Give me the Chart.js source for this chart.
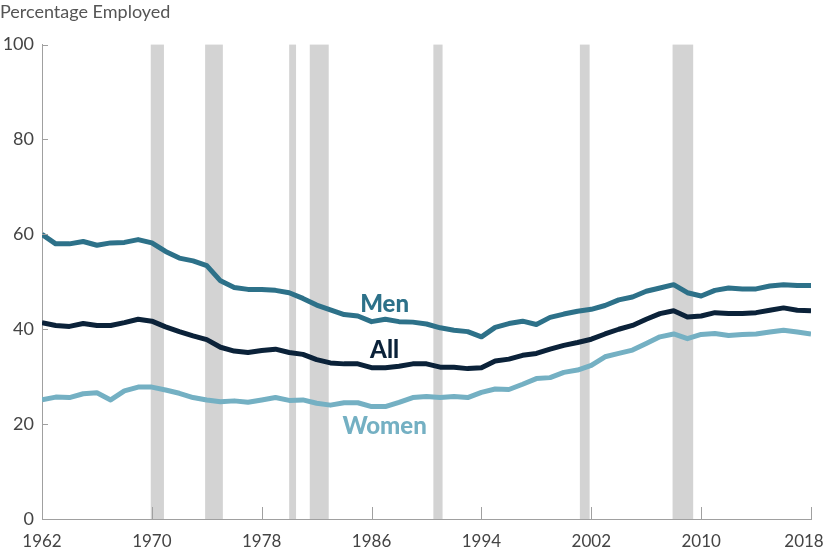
<!DOCTYPE html>
<html>
<head>
<meta charset="utf-8">
<script src="https://cdn.jsdelivr.net/npm/chart.js@4"></script>
<style>
  html, body { margin: 0; padding: 0; background: #fff; }
  #wrap { width: 825px; height: 550px; }
</style>
</head>
<body>
<div id="wrap"><canvas id="lineChart"></canvas></div>
<script>
"use strict";

// Data
const years = [];
for (let y = 1962; y <= 2018; y++) years.push(y);

const men = [60.0, 58.0, 58.0, 58.5, 57.7, 58.2, 58.3, 58.9, 58.2, 56.4,
  55.0, 54.4, 53.4, 50.2, 48.8, 48.4, 48.4, 48.2, 47.7, 46.5,
  45.1, 44.1, 43.1, 42.8, 41.6, 42.1, 41.6, 41.5, 41.1, 40.3,
  39.8, 39.5, 38.4, 40.4, 41.2, 41.7, 41.0, 42.5, 43.2, 43.8,
  44.2, 45.0, 46.2, 46.8, 48.0, 48.7, 49.4, 47.7, 47.0, 48.2,
  48.7, 48.5, 48.5, 49.1, 49.4, 49.2, 49.2];

const all = [41.4, 40.8, 40.6, 41.2, 40.8, 40.8, 41.4, 42.1, 41.7, 40.5,
  39.5, 38.6, 37.8, 36.2, 35.4, 35.1, 35.5, 35.8, 35.1, 34.7,
  33.6, 32.9, 32.7, 32.7, 31.9, 31.9, 32.2, 32.7, 32.7, 32.0,
  32.0, 31.7, 31.9, 33.3, 33.7, 34.5, 34.9, 35.8, 36.6, 37.2,
  37.9, 39.0, 40.0, 40.8, 42.1, 43.3, 43.9, 42.6, 42.8, 43.5,
  43.3, 43.3, 43.5, 44.0, 44.5, 44.0, 43.9];

const women = [25.1, 25.7, 25.6, 26.4, 26.6, 25.1, 27.0, 27.8, 27.8, 27.2,
  26.5, 25.6, 25.1, 24.7, 24.9, 24.6, 25.1, 25.6, 25.0, 25.1,
  24.4, 24.0, 24.5, 24.5, 23.7, 23.7, 24.6, 25.6, 25.8, 25.6,
  25.8, 25.6, 26.7, 27.4, 27.3, 28.4, 29.6, 29.8, 30.9, 31.4,
  32.4, 34.2, 34.9, 35.6, 37.0, 38.4, 39.0, 38.0, 38.9, 39.1,
  38.7, 38.9, 39.0, 39.4, 39.8, 39.4, 39.0];

// Lågkonjunkturer (start, slut) i årtal
const recessions = [
  [1969.92, 1970.88], [1973.88, 1975.17], [1980.0, 1980.5],
  [1981.5, 1982.88], [1990.5, 1991.17], [2001.17, 2001.88],
  [2007.92, 2009.42]
];

const xTicks = [1962, 1970, 1978, 1986, 1994, 2002, 2010, 2018];
const yTicks = [0, 20, 40, 60, 80, 100];

// Etiketter för linjerna: [text, x (år), y (värde), färg]
const seriesLabels = [
  ["Men", 1986.95, 45.3, "#2d7189"],
  ["All", 1986.95, 35.5, "#0b2239"],
  ["Women", 1986.95, 19.6, "#74b0c3"]
];

const toPoints = arr => arr.map((v, i) => ({ x: years[i], y: v }));

// Grå staplar för lågkonjunkturer + tickmarkeringar + etiketter
const recessionPlugin = {
  id: "recessions",
  beforeDraw(chart) {
    // flytta sista x-etiketten lite åt vänster så den får plats
    const items = chart.scales.x.getLabelItems();
    const last = items[items.length - 1];
    if (last && !last._moved) {
      last.options.translation[0] -= 7;
      last._moved = true;
    }
  },
  beforeDatasetsDraw(chart) {
    const { ctx, chartArea, scales } = chart;
    ctx.save();
    ctx.fillStyle = "#d3d3d3";
    recessions.forEach(r => {
      const x1 = scales.x.getPixelForValue(r[0]);
      const x2 = scales.x.getPixelForValue(r[1]);
      ctx.fillRect(x1, chartArea.top, x2 - x1, chartArea.bottom - chartArea.top);
    });
    ctx.restore();
  },
  afterDraw(chart) {
    const { ctx, chartArea, scales } = chart;
    ctx.save();
    // små tickmarkeringar inåt
    ctx.strokeStyle = "#a0a0a0";
    ctx.lineWidth = 1;
    xTicks.forEach(t => {
      const x = Math.round(scales.x.getPixelForValue(t)) + 0.5;
      ctx.beginPath();
      ctx.moveTo(x, chartArea.bottom);
      ctx.lineTo(x, chartArea.bottom - 12);
      ctx.stroke();
    });
    yTicks.forEach(t => {
      const y = Math.round(scales.y.getPixelForValue(t)) + 0.5;
      ctx.beginPath();
      ctx.moveTo(chartArea.left, y);
      ctx.lineTo(chartArea.left + 6, y);
      ctx.stroke();
    });
    // linjeetiketter
    ctx.font = "900 24px Lato";
    ctx.textAlign = "center";
    ctx.textBaseline = "middle";
    seriesLabels.forEach(l => {
      ctx.fillStyle = l[3];
      ctx.fillText(l[0], scales.x.getPixelForValue(l[1]), scales.y.getPixelForValue(l[2]));
    });
    ctx.restore();
  }
};

function createLineChart() {
  const ctx = document.getElementById("lineChart");
  new Chart(ctx, {
    type: "line",
    data: {
      datasets: [
        { label: "Men", data: toPoints(men), borderColor: "#2d7189" },
        { label: "All", data: toPoints(all), borderColor: "#0b2239" },
        { label: "Women", data: toPoints(women), borderColor: "#74b0c3" }
      ]
    },
    options: {
      responsive: true,
      maintainAspectRatio: false,
      animation: false,
      layout: { padding: { top: 0, right: 14, left: 0, bottom: 0 } },
      elements: {
        line: { borderWidth: 5, tension: 0, borderJoinStyle: "round", borderCapStyle: "butt" },
        point: { radius: 0 }
      },
      plugins: {
        legend: { display: false },
        tooltip: { enabled: false },
        title: {
          display: true,
          text: "Percentage Employed",
          align: "start",
          color: "#555",
          font: { family: "Lato", size: 18, weight: "normal" },
          padding: { top: 1, bottom: 22 }
        }
      },
      scales: {
        x: {
          type: "linear",
          min: 1962,
          max: 2018,
          afterBuildTicks: s => { s.ticks = xTicks.map(v => ({ value: v })); },
          afterFit: s => { s.height = 31; s.paddingLeft = 0; s.paddingRight = 0; },
          grid: { display: false, drawTicks: false },
          border: { display: true, color: "#a0a0a0", width: 1 },
          ticks: {
            callback: v => String(v),
            color: "#444",
            padding: 12,
            maxRotation: 0,
            font: { family: "Lato", size: 17 }
          }
        },
        y: {
          min: 0,
          max: 100,
          afterBuildTicks: s => { s.ticks = yTicks.map(v => ({ value: v })); },
          afterFit: s => { s.width = 42; s.paddingTop = 0; s.paddingBottom = 0; },
          grid: { display: false, drawTicks: false },
          border: { display: true, color: "#a0a0a0", width: 1 },
          ticks: {
            color: "#444",
            padding: 8,
            font: { family: "Lato", size: 18 }
          }
        }
      }
    },
    plugins: [recessionPlugin]
  });
}

createLineChart();
</script>
</body>
</html>
